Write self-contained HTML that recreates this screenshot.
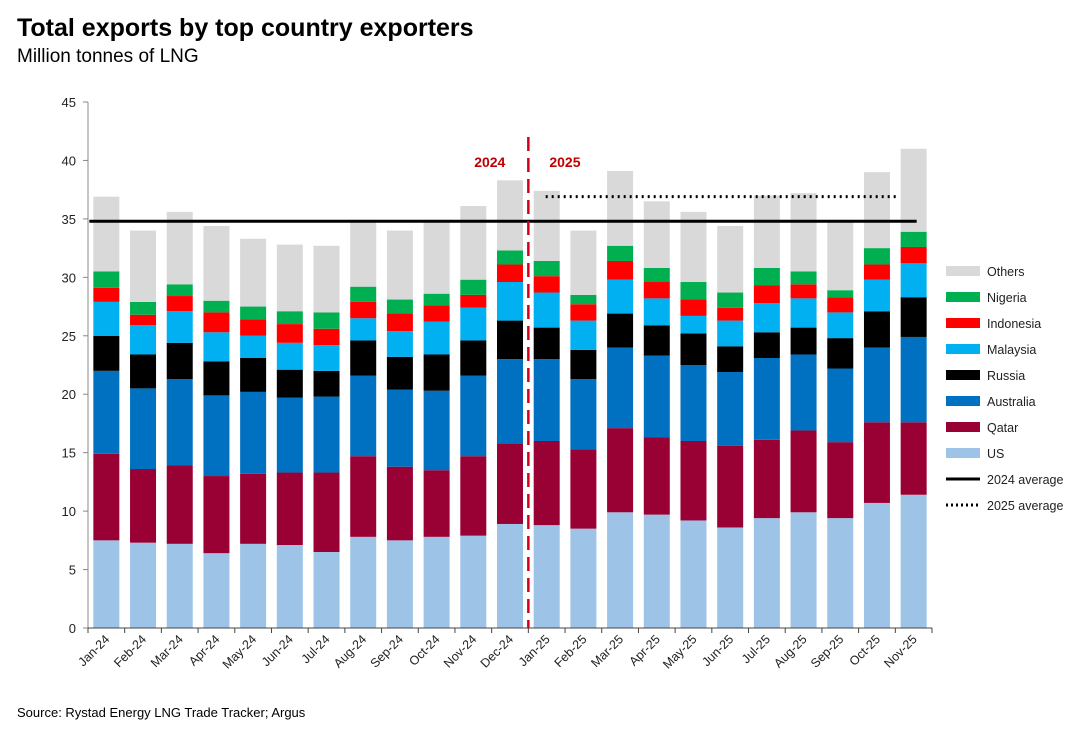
<!DOCTYPE html>
<html><head><meta charset="utf-8"><style>
body{margin:0;background:#fff;font-family:"Liberation Sans",sans-serif}
svg text{font-family:"Liberation Sans",sans-serif}
</style></head><body>
<svg id="chart" width="1080" height="729" viewBox="0 0 1080 729" xmlns="http://www.w3.org/2000/svg">
<text x="17" y="36" font-size="25" font-weight="bold" fill="#000">Total exports by top country exporters</text>
<text x="17" y="62" font-size="19" fill="#000">Million tonnes of LNG</text>
<text x="17" y="717" font-size="13" fill="#000">Source: Rystad Energy LNG Trade Tracker; Argus</text>
<g id="plot"></g>
<g id="legend"></g>
</svg>
<script>
const categories=["Jan-24","Feb-24","Mar-24","Apr-24","May-24","Jun-24","Jul-24","Aug-24","Sep-24","Oct-24","Nov-24","Dec-24","Jan-25","Feb-25","Mar-25","Apr-25","May-25","Jun-25","Jul-25","Aug-25","Sep-25","Oct-25","Nov-25"];
const us=[7.5,7.3,7.2,6.4,7.2,7.1,6.5,7.8,7.5,7.8,7.9,8.9,8.8,8.5,9.9,9.7,9.2,8.6,9.4,9.9,9.4,10.7,11.4];
const qatar=[7.4,6.3,6.7,6.6,6.0,6.2,6.8,6.9,6.3,5.7,6.8,6.9,7.2,6.8,7.2,6.6,6.8,7.0,6.7,7.0,6.5,6.9,6.2];
const australia=[7.1,6.9,7.4,6.9,7.0,6.4,6.5,6.9,6.6,6.8,6.9,7.2,7.0,6.0,6.9,7.0,6.5,6.3,7.0,6.5,6.3,6.4,7.3];
const russia=[3.0,2.9,3.1,2.9,2.9,2.4,2.2,3.0,2.8,3.1,3.0,3.3,2.7,2.5,2.9,2.6,2.7,2.2,2.2,2.3,2.6,3.1,3.4];
const malaysia=[2.9,2.5,2.7,2.5,1.9,2.3,2.2,1.9,2.2,2.8,2.8,3.3,3.0,2.5,2.9,2.3,1.5,2.2,2.5,2.5,2.2,2.7,2.9];
const indonesia=[1.2,0.9,1.3,1.7,1.4,1.6,1.4,1.4,1.5,1.4,1.1,1.5,1.4,1.4,1.6,1.4,1.4,1.1,1.5,1.2,1.3,1.3,1.4];
const nigeria=[1.4,1.1,1.0,1.0,1.1,1.1,1.4,1.3,1.2,1.0,1.3,1.2,1.3,0.8,1.3,1.2,1.5,1.3,1.5,1.1,0.6,1.4,1.3];
const others=[6.4,6.1,6.2,6.4,5.8,5.7,5.7,5.6,5.9,6.1,6.3,6.0,6.0,5.5,6.4,5.7,6.0,5.7,6.2,6.7,5.9,6.5,7.1];
const yTicks=[0,5,10,15,20,25,30,35,40,45];
const avg2024=34.8;
const avg2025=36.9;
const seriesNames=["US","Qatar","Australia","Russia","Malaysia","Indonesia","Nigeria","Others"];
const seriesColors=["#9dc3e6","#990033","#0070c0","#000000","#00b0f0","#ff0000","#00b050","#d9d9d9"];
const seriesData=[us,qatar,australia,russia,malaysia,indonesia,nigeria,others];

const NS="http://www.w3.org/2000/svg";
const X0=88,X1=932,Y0=628,Y1=102,YMAX=45;
const slot=(X1-X0)/categories.length;
const y=v=>Y0-(v/YMAX)*(Y0-Y1);
const xc=i=>X0+slot*(i+0.5);
const plot=document.getElementById('plot');
function mk(tag,attrs,parent){const e=document.createElementNS(NS,tag);for(const k in attrs)e.setAttribute(k,attrs[k]);(parent||plot).appendChild(e);return e;}

categories.forEach((c,i)=>{
  let base=0;
  seriesData.forEach((s,j)=>{
    const v=s[i];
    const r=mk('rect',{x:xc(i)-13,y:y(base+v),width:26,height:y(base)-y(base+v),fill:seriesColors[j]});
    
    
    base+=v;
  });
});
const ya=mk('line',{x1:X0,y1:Y1,x2:X0,y2:Y0,stroke:'#888','stroke-width':1});


const xa=mk('line',{x1:X0-5,y1:Y0,x2:X1,y2:Y0,stroke:'#444','stroke-width':1});


yTicks.forEach(t=>{
  mk('line',{x1:X0-5,y1:y(t),x2:X0,y2:y(t),stroke:'#888'});
  const tx=mk('text',{x:X0-12,y:y(t)+5,'font-size':13,'text-anchor':'end',fill:'#222'});
  tx.textContent=t;
  
  
});
for(let i=0;i<=categories.length;i++){
  mk('line',{x1:X0+slot*i,y1:Y0,x2:X0+slot*i,y2:Y0+5,stroke:'#444'});
}
categories.forEach((c,i)=>{
  const px=xc(i)+4,py=Y0+12;
  const tx=mk('text',{x:px,y:py,'font-size':12.5,'text-anchor':'end',fill:'#222',transform:`rotate(-45 ${px} ${py})`});
  tx.textContent=c;
  
  
});
const l24=mk('line',{x1:xc(0)-17,y1:y(avg2024),x2:xc(22)+3,y2:y(avg2024),stroke:'#000','stroke-width':3});


const l25=mk('line',{x1:xc(12)-1,y1:y(avg2025),x2:xc(22)-14,y2:y(avg2025),stroke:'#000','stroke-width':3,'stroke-dasharray':'2 4'});


const dv=mk('line',{x1:X0+slot*12,y1:137,x2:X0+slot*12,y2:Y0,stroke:'#d0021b','stroke-width':2.5,'stroke-dasharray':'14 7'});


const t24=mk('text',{x:X0+slot*12-23,y:167,'font-size':14,'font-weight':'bold','text-anchor':'end',fill:'#c00000'});
t24.textContent='2024';


const t25=mk('text',{x:X0+slot*12+21,y:167,'font-size':14,'font-weight':'bold',fill:'#c00000'});
t25.textContent='2025';


const lg=document.getElementById('legend');
const order=[7,6,5,4,3,2,1,0];
order.forEach((j,k)=>{
  const ly=271+k*26;
  const g=mk('g',{},lg);
  
  
  mk('rect',{x:946,y:ly-5,width:34,height:10,fill:seriesColors[j]},g);
  const t=mk('text',{x:987,y:ly+5,'font-size':12.5,fill:'#222'},g);
  t.textContent=seriesNames[j];
});
const g1=mk('g',{},lg);


mk('line',{x1:946,y1:479,x2:980,y2:479,stroke:'#000','stroke-width':3},g1);
mk('text',{x:987,y:484,'font-size':12.5,fill:'#222'},g1).textContent='2024 average';
const g2=mk('g',{},lg);


mk('line',{x1:946,y1:505,x2:980,y2:505,stroke:'#000','stroke-width':3,'stroke-dasharray':'2 3'},g2);
mk('text',{x:987,y:510,'font-size':12.5,fill:'#222'},g2).textContent='2025 average';
</script>
</body></html>
